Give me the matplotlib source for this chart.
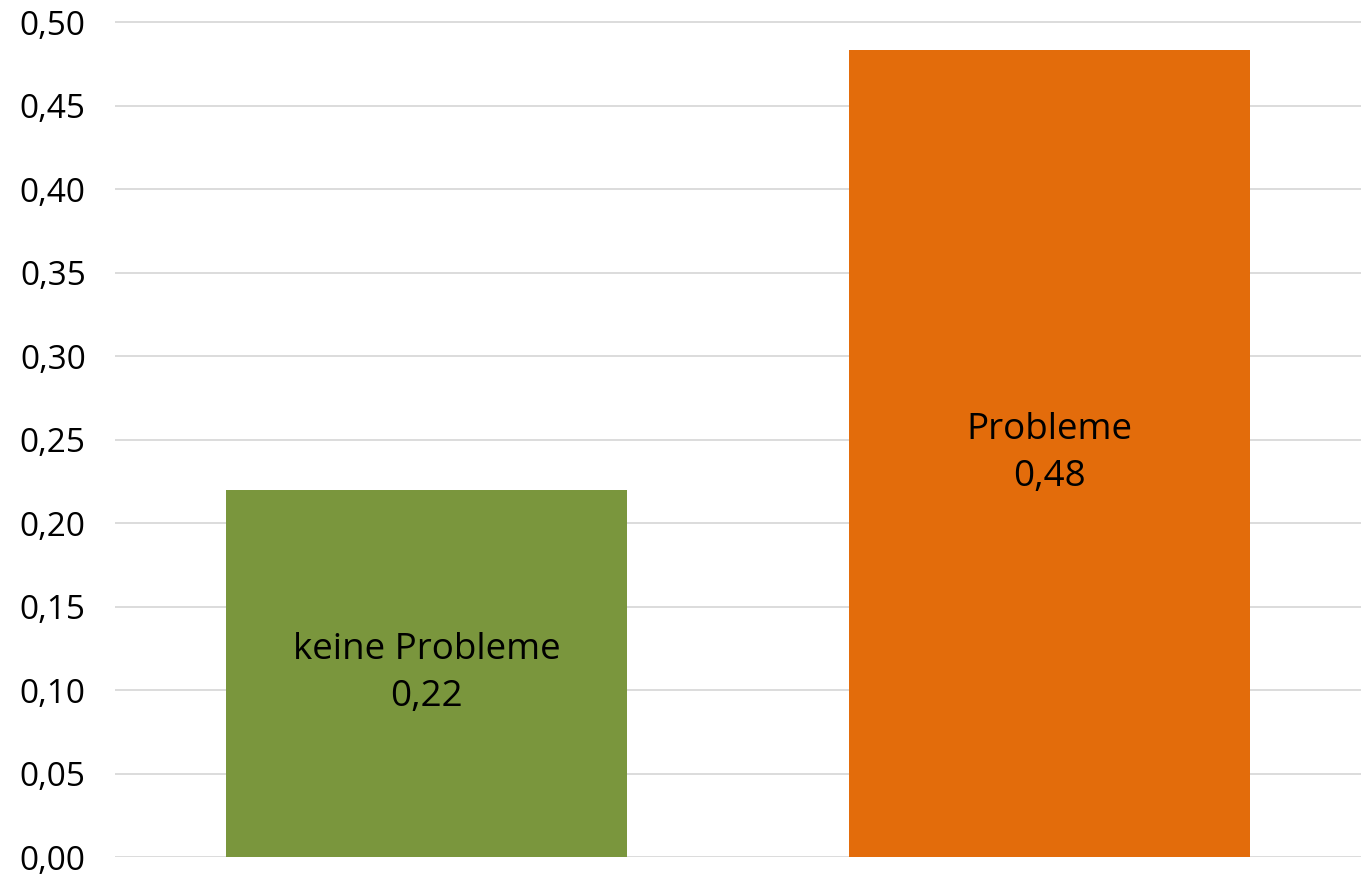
import numpy as np
import matplotlib.pyplot as plt
from matplotlib.ticker import FuncFormatter

# daten
categories = ["keine Probleme", "Probleme"]
values = [0.22, 0.483]
colors = ["#7A963D", "#E36C0B"]

plt.rcParams['font.family'] = ['Open Sans', 'DejaVu Sans']

fig = plt.figure(figsize=(13.61, 8.75), dpi=100)
ax = fig.add_axes([115 / 1361, 18 / 875, 1246 / 1361, 839 / 875])

x = np.arange(len(categories))
bars = ax.bar(x, values, width=0.643, color=colors, zorder=2)

for b, cat, v in zip(bars, categories, values):
    ax.text(b.get_x() + b.get_width() / 2, v / 2,
            cat + "\n" + ("%.2f" % v).replace(".", ","),
            ha="center", va="center", fontsize=26.5, linespacing=1.4, color="black")

ax.set_xlim(-0.5, 1.5)
ax.set_ylim(0, 0.5024)
ax.set_yticks(np.arange(0, 0.51, 0.05))
ax.yaxis.set_major_formatter(FuncFormatter(lambda v, p: ("%.2f" % v).replace(".", ",")))
ax.tick_params(axis="y", labelsize=24, length=0, pad=21)
ax.set_xticks([])
ax.grid(axis="y", color="#D9D9D9", linewidth=1.3, zorder=0)
for s in ax.spines.values():
    s.set_visible(False)

fig.savefig("out.png", dpi=100)
